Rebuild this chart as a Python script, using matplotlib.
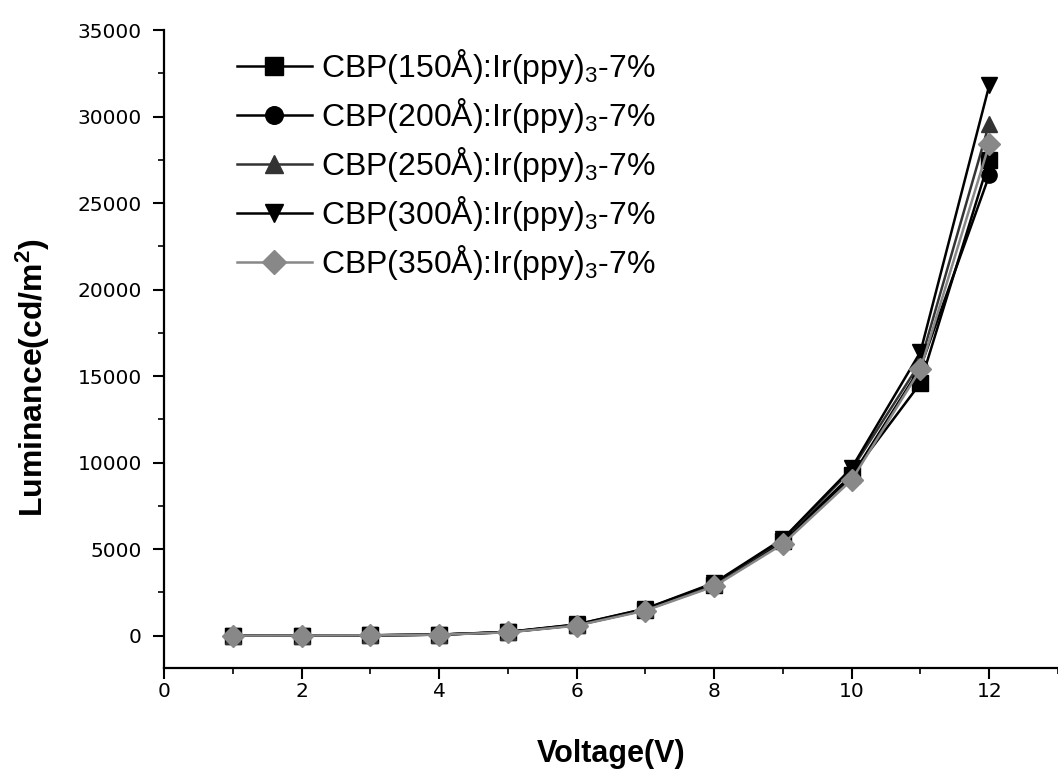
import matplotlib
matplotlib.use("Agg")
import matplotlib.pyplot as plt
from matplotlib.ticker import MultipleLocator

plt.rcParams['font.family'] = ['Liberation Sans', 'DejaVu Sans']
plt.rcParams['mathtext.fontset'] = 'custom'
plt.rcParams['mathtext.rm'] = 'Liberation Sans'
plt.rcParams['mathtext.it'] = 'Liberation Sans'
plt.rcParams['mathtext.bf'] = 'Liberation Sans:bold'

# 电压 (V)
voltage = [1, 2, 3, 4, 5, 6, 7, 8, 9, 10, 11, 12]
# 各厚度的亮度 (cd/m2)
lum_150 = [5, 10, 20, 60, 200, 620, 1500, 2950, 5450, 9300, 14600, 27500]
lum_200 = [5, 10, 20, 60, 200, 600, 1480, 2900, 5400, 9200, 15500, 26600]
lum_250 = [5, 10, 20, 60, 210, 640, 1550, 3000, 5550, 9600, 15800, 29600]
lum_300 = [5, 10, 20, 60, 220, 650, 1560, 3050, 5600, 9700, 16400, 31800]
lum_350 = [5, 10, 20, 55, 190, 580, 1450, 2850, 5300, 9000, 15400, 28400]

labels = ['CBP(150Å):Ir(ppy)$_3$-7%', 'CBP(200Å):Ir(ppy)$_3$-7%',
          'CBP(250Å):Ir(ppy)$_3$-7%', 'CBP(300Å):Ir(ppy)$_3$-7%',
          'CBP(350Å):Ir(ppy)$_3$-7%']
series = [lum_150, lum_200, lum_250, lum_300, lum_350]
markers = ['s', 'o', '^', 'v', 'D']
colors = ['black', 'black', '#333333', 'black', '#888888']

fig = plt.figure(figsize=(10.58, 7.71), dpi=100)
ax = fig.add_axes([0.155, 0.134, 0.845, 0.827])

for y, m, c, lab in zip(series, markers, colors, labels):
    ax.plot(voltage, y, color=c, marker=m, markersize=11, linewidth=1.8,
            label=lab)

ax.set_xlim(0, 13)
ax.set_ylim(-1850, 35000)
ax.xaxis.set_major_locator(MultipleLocator(2))
ax.xaxis.set_minor_locator(MultipleLocator(1))
ax.yaxis.set_major_locator(MultipleLocator(5000))
ax.yaxis.set_minor_locator(MultipleLocator(2500))

for s in ['top', 'right']:
    ax.spines[s].set_visible(False)
for s in ['left', 'bottom']:
    ax.spines[s].set_linewidth(1.6)

ax.tick_params(which='major', direction='out', length=8, width=1.5)
ax.tick_params(which='minor', direction='out', length=4, width=1.2)
ax.tick_params(axis='y', which='major', pad=8)
ax.tick_params(axis='x', which='major', pad=2)
for t in ax.get_xticklabels() + ax.get_yticklabels():
    t.set_fontfamily('DejaVu Sans')
    t.set_fontsize(14.5)

ax.set_xlabel('Voltage(V)', fontsize=22, fontweight='bold', labelpad=28)
ax.set_ylabel('Luminance(cd/m$\\mathbf{^2}$)', fontsize=23, fontweight='bold')
ax.yaxis.set_label_coords(-0.125, 0.455)

leg = ax.legend(loc='upper left', bbox_to_anchor=(0.06, 1.003), frameon=False,
                fontsize=23, handlelength=2.35, handletextpad=0.28,
                labelspacing=0.31, borderaxespad=0.2, markerscale=1.15)

fig.savefig('out.png', dpi=100)
